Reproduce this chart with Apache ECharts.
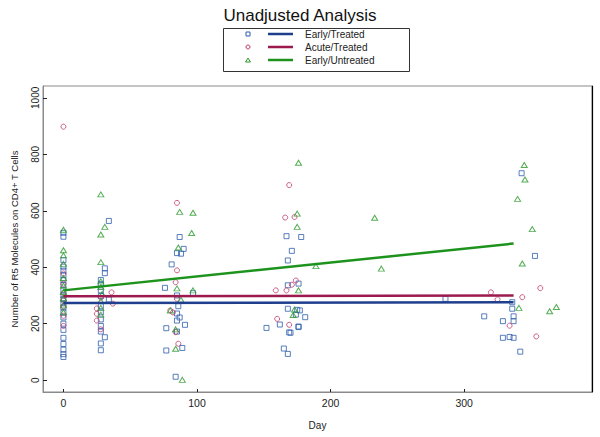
<!DOCTYPE html>
<html>
<head>
<meta charset="utf-8">
<script src="https://cdn.jsdelivr.net/npm/echarts@6/dist/echarts.min.js"></script>
<style>
html,body{margin:0;padding:0;background:#fff;}
#c{width:600px;height:437px;}
</style>
</head>
<body>
<div id="c"></div>
<script>
// ---------- data ----------
const titleText = 'Unadjusted Analysis';
const seriesNames = ['Early/Treated', 'Acute/Treated', 'Early/Untreated'];
const xTicks = [0, 100, 200, 300];
const yTicks = [0, 200, 400, 600, 800, 1000];

// Early/Treated (blue squares): day, value
const etDays = [0,0,0,0,0,0,0,0,0,0,0,0,0,0,0,0,0,0,0,0,0,0,
  28,28,28,34,28,28,28,28,28,31,28,28,34,31,31,28,
  87,90,85,88,81,76,97,85,87,85,91,77,85,89,77,84,85,86,
  167,171,168,168,176,178,168,177,175,174,162,176,152,176,169,170,165,168,181,
  286,
  343,353,336,336,315,337,329,337,329,334,337,342];
const etVals = [522,508,425,402,388,372,355,338,318,300,287,272,258,240,222,200,178,150,128,108,92,82,
  340,318,298,286,262,240,215,192,172,152,130,106,564,396,379,355,
  507,465,450,448,410,327,308,236,222,211,196,184,172,114,105,12,300,262,
  510,458,424,336,342,507,253,247,249,232,197,188,185,190,169,168,112,93,223,
  288,
  733,440,276,253,226,226,209,209,150,153,150,101];

// Acute/Treated (red circles)
const atDays = [0,0,0,0,0,0,0,0,
  36,37,25,25,25,28,28,
  85,85,84,85,80,84,86,82,
  169,166,173,174,159,167,160,169,171,
  357,320,343.5,325,334,354];
const atVals = [898,378,342,308,282,262,228,192,
  311,271,254,235,211,180,292,
  628,389,347,288,247,170,129,240,
  691,576,578,353,318,318,217,196,338,
  326,311,294,286,193,155];

// Early/Untreated (green triangles)
const euDays = [0,0,0,0,0,0,0,0,0,0,
  28,31,28,28,28,28,29,28,28,28,
  87,97,96,86,85,97,88,80,84,84,89,
  176,175,175,189,233,238,176,172,173,
  345,345.5,340,351,343.5,341,364,369];
const euVals = [533,460,442,412,362,335,312,290,265,240,
  658,543,516,418,350,330,305,280,256,232,
  596,593,521,470,325,318,285,247,180,111,1,
  770,590,543,404,575,395,318,231,250,
  762,711,642,535,413,256,244,259];

// fitted lines: [startDay, endDay], [startValue, endValue]
const fitDays = [0, 337];
const etFit = [273, 276];
const atFit = [297, 300];
const euFit = [318, 484];

// ---------- build ----------
const pair = (d, v) => d.map((x, i) => [x, v[i]]);
const blueP = '#2f5fae', redP = '#c2386e', greenP = '#2a9a2a';
const blueL = '#1f3f8e', redL = '#9c1a4e', greenL = '#1d931d';
const font = '"Liberation Sans", Arial, sans-serif';

const chart = echarts.init(document.getElementById('c'), null, {renderer: 'svg'});
chart.setOption({
  animation: false,
  backgroundColor: '#fff',
  textStyle: {fontFamily: font},
  title: {
    text: titleText, left: 'center', top: 2,
    textStyle: {fontFamily: font, fontSize: 17, fontWeight: 'normal', color: '#111'}
  },
  legend: {
    data: seriesNames,
    orient: 'vertical', left: 268, top: 29, padding: 0,
    icon: 'rect', itemWidth: 25, itemHeight: 2.5, itemGap: 3,
    textStyle: {fontFamily: font, fontSize: 10, lineHeight: 10, color: '#222', padding: [0, 0, 0, 7]},
    selectedMode: false
  },
  graphic: [
    {type: 'rect', shape: {x: 223.5, y: 28.5, width: 186, height: 43},
     style: {fill: 'none', stroke: '#333', lineWidth: 1}, silent: true},
    {type: 'rect', shape: {x: 246, y: 32, width: 4, height: 4},
     style: {fill: 'none', stroke: blueP, lineWidth: 1}, silent: true},
    {type: 'circle', shape: {cx: 248, cy: 47, r: 2},
     style: {fill: 'none', stroke: redP, lineWidth: 1}, silent: true},
    {type: 'polygon', shape: {points: [[248, 58], [245.5, 62], [250.5, 62]]},
     style: {fill: 'none', stroke: greenP, lineWidth: 1}, silent: true}
  ],
  grid: {left: 43, right: 8, top: 86, bottom: 45, show: true, borderColor: '#8a8a8a', borderWidth: 1},
  xAxis: {
    type: 'value', min: -15.3, max: 395.7,
    name: 'Day', nameLocation: 'middle', nameGap: 28,
    nameTextStyle: {fontFamily: font, fontSize: 10, color: '#222'},
    axisLine: {show: true, onZero: false, lineStyle: {color: '#8a8a8a'}},
    axisTick: {show: true, inside: true, length: 3, lineStyle: {color: '#222'}, customValues: xTicks},
    axisLabel: {fontFamily: font, fontSize: 10.5, color: '#222', margin: 5, customValues: xTicks},
    splitLine: {show: false}
  },
  yAxis: [{
    type: 'value', min: -42, max: 1042,
    name: 'Number of R5 Molecules on CD4+ T Cells', nameLocation: 'middle', nameGap: 24,
    nameTextStyle: {fontFamily: font, fontSize: 9.5, color: '#222'},
    axisLine: {show: true, onZero: false, lineStyle: {color: '#8a8a8a'}},
    axisTick: {show: true, inside: true, length: 4, lineStyle: {color: '#222'}, customValues: yTicks},
    axisLabel: {fontFamily: font, fontSize: 10, color: '#222', rotate: 90, margin: 3,
      customValues: yTicks, formatter: v => String(v)},
    splitLine: {show: false}
  }, {
    type: 'value', min: -42, max: 1042, position: 'right',
    axisLine: {show: true, onZero: false, lineStyle: {color: '#000', width: 1.2}},
    axisTick: {show: false}, axisLabel: {show: false}, splitLine: {show: false}
  }],
  series: [
    {name: 'Early/Treated points', type: 'scatter', data: pair(etDays, etVals),
     symbol: 'rect', symbolSize: 5,
     itemStyle: {color: 'rgba(0,0,0,0)', borderColor: blueP, borderWidth: 1}},
    {name: 'Acute/Treated points', type: 'scatter', data: pair(atDays, atVals),
     symbol: 'circle', symbolSize: 5,
     itemStyle: {color: 'rgba(0,0,0,0)', borderColor: redP, borderWidth: 1}},
    {name: 'Early/Untreated points', type: 'scatter', data: pair(euDays, euVals),
     symbol: 'triangle', symbolSize: [6, 5],
     itemStyle: {color: 'rgba(0,0,0,0)', borderColor: greenP, borderWidth: 1}},
    {name: 'Early/Treated', type: 'line', data: pair(fitDays, etFit), symbol: 'none',
     lineStyle: {color: blueL, width: 2.5}, itemStyle: {color: blueL}},
    {name: 'Acute/Treated', type: 'line', data: pair(fitDays, atFit), symbol: 'none',
     lineStyle: {color: redL, width: 2.5}, itemStyle: {color: redL}},
    {name: 'Early/Untreated', type: 'line', data: pair(fitDays, euFit), symbol: 'none',
     lineStyle: {color: greenL, width: 2.5}, itemStyle: {color: greenL}}
  ]
});
</script>
</body>
</html>
